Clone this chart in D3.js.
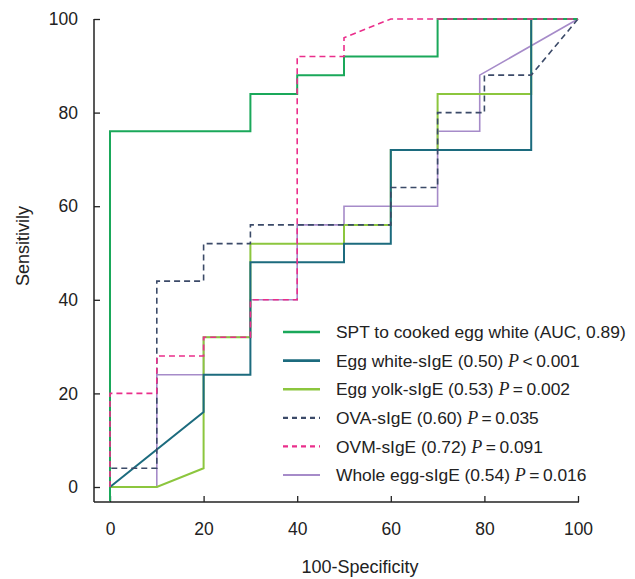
<!DOCTYPE html>
<html>
<head>
<meta charset="UTF-8">
<title>ROC</title>
<script src="https://cdn.jsdelivr.net/npm/d3@7"></script>
<style type="text/css">
body { margin: 0; background: #fff; }
svg { display: block; }
.axis text { font: 17.5px "Liberation Sans", Arial, sans-serif; fill: #222; }
.legend text { font: 17.4px "Liberation Sans", Arial, sans-serif; fill: #222; }
</style>
</head>
<body>
<div class="chart"></div>
<script>
// series points [100-specificity, sensitivity]
var spt      = [[0,-3],[0,76],[30,76],[30,84],[40,84],[40,88],[50,88],[50,92],[70,92],[70,100],[100,100]];
var eggWhite = [[0,0],[20,16],[20,24],[30,24],[30,48],[50,48],[50,52],[60,52],[60,72],[90,72],[90,100],[100,100]];
var eggYolk  = [[0,0],[10,0],[20,4],[20,32],[30,32],[30,52],[50,52],[50,56],[60,56],[60,72],[70,72],[70,84],[90,84],[90,100],[100,100]];
var ova      = [[0,0],[0,4],[10,4],[10,44],[20,44],[20,52],[30,52],[30,56],[60,56],[60,64],[70,64],[70,80],[80,80],[80,88],[90,88],[100,100]];
var ovm      = [[0,0],[0,20],[10,20],[10,28],[20,28],[20,32],[30,32],[30,40],[40,40],[40,92],[50,92],[50,96],[60,100],[100,100]];
var wholeEgg = [[0,0],[10,0],[10,24],[20,24],[20,32],[30,32],[30,40],[40,40],[40,56],[50,56],[50,60],[70,60],[70,76],[79,76],[79,88],[100,100]];

var xTicks = [0, 20, 40, 60, 80, 100];
var yTicks = [0, 20, 40, 60, 80, 100];

var series = [
    {name: "SPT to cooked egg white (AUC, 0.89)", p: null, data: spt, color: "#1aa85a", width: 2, dash: null},
    {name: "Egg white-sIgE (0.50) ", p: "\u2009<\u20090.001", data: eggWhite, color: "#1c6b7e", width: 2, dash: null},
    {name: "Egg yolk-sIgE (0.53) ", p: "\u2009=\u20090.002", data: eggYolk, color: "#8cc63e", width: 2, dash: null},
    {name: "OVA-sIgE (0.60) ", p: "\u2009=\u20090.035", data: ova, color: "#3b4a68", width: 1.6, dash: "6,4"},
    {name: "OVM-sIgE (0.72) ", p: "\u2009=\u20090.091", data: ovm, color: "#ea2e8b", width: 1.6, dash: "6,4"},
    {name: "Whole egg-sIgE (0.54) ", p: "\u2009=\u20090.016", data: wholeEgg, color: "#a68bc9", width: 1.6, dash: null}
];

var svg = d3.select(".chart").append("svg")
    .attr("width", 635)
    .attr("height", 579);

var x = d3.scaleLinear().domain([0, 100]).range([110, 578]);
var y = d3.scaleLinear().domain([0, 100]).range([487, 19]);
var axisX = 94, axisY = 502;

// axes, ticks pointing inwards
var gx = svg.append("g").attr("class", "axis")
    .attr("transform", "translate(0," + axisY + ")")
    .call(d3.axisBottom(x).tickValues(xTicks).tickSize(-6).tickPadding(21));
var gy = svg.append("g").attr("class", "axis")
    .attr("transform", "translate(" + axisX + ",0)")
    .call(d3.axisLeft(y).tickValues(yTicks).tickSize(-6).tickPadding(16));
gx.select(".domain").remove();
gy.select(".domain").remove();
svg.selectAll(".axis line").attr("stroke", "#222").attr("stroke-width", 1.3);

svg.append("line").attr("x1", axisX).attr("x2", x(100) + 1).attr("y1", axisY).attr("y2", axisY)
    .attr("stroke", "#222").attr("stroke-width", 1.5);
svg.append("line").attr("x1", axisX).attr("x2", axisX).attr("y1", y(100)).attr("y2", axisY)
    .attr("stroke", "#222").attr("stroke-width", 1.5);

svg.append("text")
    .attr("x", 360).attr("y", 573)
    .attr("text-anchor", "middle")
    .style("font", "18px 'Liberation Sans', Arial, sans-serif").attr("fill", "#222")
    .text("100-Specificity");
svg.append("text")
    .attr("transform", "translate(29,246) rotate(-90)")
    .attr("text-anchor", "middle")
    .style("font", "18px 'Liberation Sans', Arial, sans-serif").attr("fill", "#222")
    .text("Sensitivily");

var line = d3.line()
    .x(function (d) { return x(d[0]); })
    .y(function (d) { return y(d[1]); });

// draw back to front
var order = [5, 2, 1, 3, 0, 4];
order.forEach(function (i) {
    var s = series[i];
    svg.append("path")
        .attr("d", line(s.data))
        .attr("fill", "none")
        .attr("stroke", s.color)
        .attr("stroke-width", s.width)
        .attr("stroke-dasharray", s.dash);
});

var legend = svg.append("g").attr("class", "legend");
var rows = legend.selectAll("g").data(series).enter().append("g")
    .attr("transform", function (d, i) { return "translate(283," + (332 + i * 28.6) + ")"; });
rows.append("line")
    .attr("x1", 0).attr("x2", 37)
    .attr("stroke", function (d) { return d.color; })
    .attr("stroke-width", function (d) { return d.width + 0.6; })
    .attr("stroke-dasharray", function (d) { return d.dash ? "5,4" : null; });
var t = rows.append("text")
    .attr("x", 53).attr("dy", "0.36em");
t.append("tspan").text(function (d) { return d.name; });
t.filter(function (d) { return d.p; }).append("tspan")
    .style("font-family", "'Liberation Serif', 'Times New Roman', serif")
    .style("font-style", "italic")
    .style("font-size", "18px")
    .text("P");
t.filter(function (d) { return d.p; }).append("tspan")
    .text(function (d) { return d.p; });
</script>
</body>
</html>
